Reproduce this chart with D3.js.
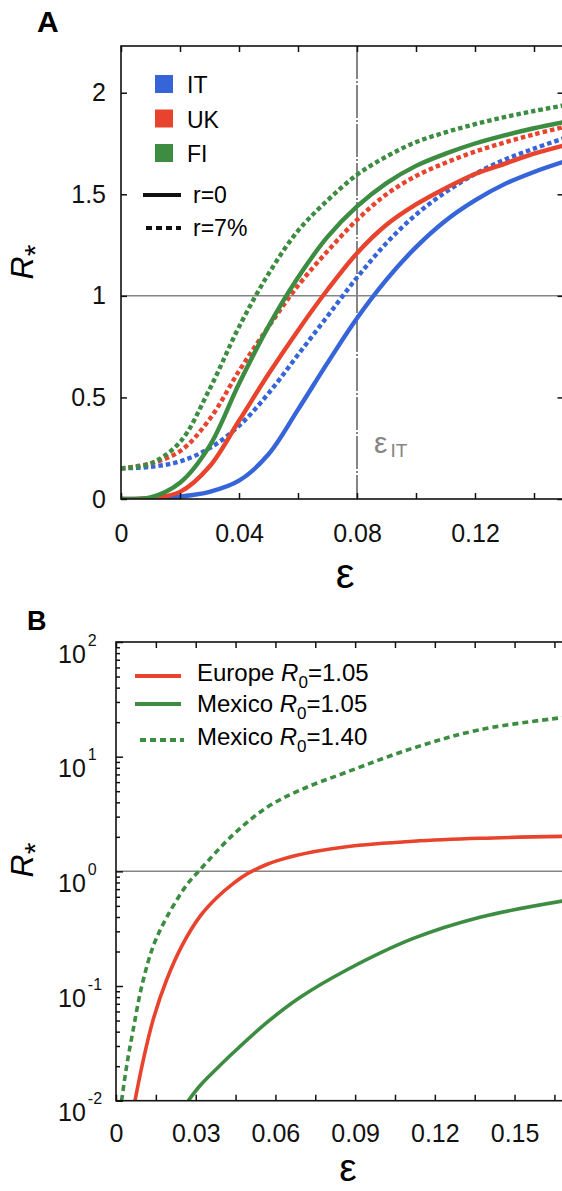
<!DOCTYPE html>
<html>
<head>
<meta charset="utf-8">
<script src="https://cdn.jsdelivr.net/npm/d3@7"></script>
<style>
  body { margin: 0; background: #fff; }
  svg { display: block; font-family: "Liberation Sans", Arial, sans-serif; }
</style>
</head>
<body>
<svg id="chart" width="562" height="1191"></svg>
<script>
// ---- panel A data: R* versus epsilon ----
var epsA = [0, 0.01, 0.02, 0.03, 0.04, 0.05, 0.06, 0.07, 0.08, 0.09, 0.10, 0.11, 0.12, 0.13, 0.14, 0.15];
var itR0 = [0, 0.002, 0.012, 0.035, 0.09, 0.22, 0.44, 0.67, 0.89, 1.08, 1.24, 1.37, 1.47, 1.55, 1.61, 1.66];
var itR7 = [0.151, 0.158, 0.185, 0.25, 0.36, 0.52, 0.71, 0.90, 1.09, 1.26, 1.40, 1.51, 1.60, 1.67, 1.725, 1.775];
var ukR0 = [0, 0.005, 0.035, 0.16, 0.385, 0.615, 0.83, 1.03, 1.21, 1.35, 1.45, 1.53, 1.60, 1.65, 1.70, 1.74];
var ukR7 = [0.151, 0.175, 0.235, 0.392, 0.63, 0.848, 1.05, 1.22, 1.374, 1.50, 1.59, 1.655, 1.71, 1.755, 1.795, 1.83];
var fiR0 = [0, 0.008, 0.08, 0.26, 0.567, 0.85, 1.09, 1.29, 1.44, 1.555, 1.64, 1.70, 1.75, 1.79, 1.825, 1.855];
var fiR7 = [0.151, 0.175, 0.28, 0.54, 0.847, 1.108, 1.32, 1.47, 1.596, 1.686, 1.757, 1.805, 1.845, 1.88, 1.91, 1.937];
var countries = ["IT", "UK", "FI"];
var rLabels = ["r=0", "r=7%"];
var epsIT = 0.08;
var xTicksA = [0, 0.02, 0.04, 0.06, 0.08, 0.10, 0.12, 0.14];
var xLabelsA = [0, 0.04, 0.08, 0.12];
var yTicksA = [0, 0.5, 1, 1.5, 2];

// ---- panel B data (log scale) ----
var eurEps = [0.00715, 0.0103, 0.014, 0.0191, 0.0247, 0.0316, 0.0379, 0.0442, 0.0495, 0.0567, 0.0617, 0.0743, 0.0868, 0.1119, 0.137, 0.168];
var eurR = [0.01, 0.0228, 0.051, 0.114, 0.222, 0.405, 0.589, 0.785, 0.955, 1.148, 1.259, 1.479, 1.641, 1.828, 1.941, 2.018];
var mex105Eps = [0.0272, 0.0316, 0.0379, 0.0442, 0.0567, 0.0692, 0.0868, 0.1119, 0.137, 0.168];
var mex105R = [0.01, 0.0135, 0.019, 0.0263, 0.0479, 0.0794, 0.138, 0.26, 0.398, 0.55];
var mex140Eps = [0.0021, 0.004, 0.0065, 0.0097, 0.014, 0.019, 0.0266, 0.0316, 0.0442, 0.0567, 0.0692, 0.0868, 0.1119, 0.137, 0.168];
var mex140R = [0.01, 0.02, 0.042, 0.1, 0.222, 0.394, 0.76, 1.03, 2.1, 3.6, 5.1, 7.33, 11.9, 17.2, 21.9];
var legendB = [["Europe ", "1.05"], ["Mexico ", "1.05"], ["Mexico ", "1.40"]];
var xTicksB = [0, 0.015, 0.03, 0.045, 0.06, 0.075, 0.09, 0.105, 0.12, 0.135, 0.15, 0.165];
var xLabelsB = [0, 0.03, 0.06, 0.09, 0.12, 0.15];
var yMajorB = [0.01, 0.1, 1, 10, 100];

var blue = "#3565d8", red = "#e8432d", green = "#3c8c42", grey = "#858585";
var colorOf = {IT: blue, UK: red, FI: green};

var svg = d3.select("#chart");
var curve = d3.curveCatmullRom.alpha(0.5);

// ================= PANEL A =================
var xA = d3.scaleLinear().domain([0, 0.15]).range([121, 563.5]);
var yA = d3.scaleLinear().domain([0, 2.23]).range([499, 46]);

svg.append("text").attr("x", 37).attr("y", 32).attr("font-size", 30).attr("font-weight", "bold").text("A");

var defs = svg.append("defs");
defs.append("clipPath").attr("id", "clipA")
  .append("rect").attr("x", 121).attr("y", 46).attr("width", 442.5).attr("height", 453);
defs.append("clipPath").attr("id", "clipB")
  .append("rect").attr("x", 116).attr("y", 642).attr("width", 452).attr("height", 458.7);

// reference lines
svg.append("line").attr("x1", xA(0)).attr("x2", xA(0.15)).attr("y1", yA(1)).attr("y2", yA(1))
  .attr("stroke", grey).attr("stroke-width", 1.5);
svg.append("line").attr("x1", xA(epsIT)).attr("x2", xA(epsIT)).attr("y1", yA(2.23)).attr("y2", yA(0))
  .attr("stroke", grey).attr("stroke-width", 2).attr("stroke-dasharray", "33,2,2,2");

var epsLabel = svg.append("text").attr("x", 374).attr("y", 453).attr("fill", grey).attr("font-size", 30);
epsLabel.append("tspan").text("ε");
epsLabel.append("tspan").attr("font-size", 19).attr("dx", 3).attr("dy", 4).text("IT");

var seriesA = [
  {c: "IT", dash: false, v: itR0}, {c: "IT", dash: true, v: itR7},
  {c: "UK", dash: false, v: ukR0}, {c: "UK", dash: true, v: ukR7},
  {c: "FI", dash: false, v: fiR0}, {c: "FI", dash: true, v: fiR7}
];
var lineA = d3.line().x(function (d, i) { return xA(epsA[i]); }).y(function (d) { return yA(d); })
  .curve(curve);
svg.append("g").attr("clip-path", "url(#clipA)")
  .selectAll("path").data(seriesA).join("path")
  .attr("d", function (s) { return lineA(s.v); })
  .attr("fill", "none")
  .attr("stroke", function (s) { return colorOf[s.c]; })
  .attr("stroke-width", 4.4)
  .attr("stroke-dasharray", function (s) { return s.dash ? "4.5,3" : null; });

// axes A (ticks point inwards)
svg.append("g").attr("transform", "translate(0,499)")
  .call(d3.axisBottom(xA).tickValues(xTicksA).tickSize(-6).tickSizeOuter(0).tickPadding(25)
    .tickFormat(function (d) { return xLabelsA.indexOf(d) >= 0 ? (d === 0 ? "0" : d3.format(".2f")(d)) : ""; }));
svg.append("g").attr("transform", "translate(0,46)")
  .call(d3.axisTop(xA).tickValues(xTicksA).tickSize(-6).tickSizeOuter(0).tickFormat(""));
svg.append("g").attr("transform", "translate(121,0)")
  .call(d3.axisLeft(yA).tickValues(yTicksA).tickSize(-6).tickSizeOuter(0).tickPadding(15)
    .tickFormat(function (d) { return d3.format("")(d); }));
svg.append("g").attr("transform", "translate(563.5,0)")
  .call(d3.axisRight(yA).tickValues(yTicksA).tickSize(-6).tickSizeOuter(0).tickFormat(""));
svg.append("rect").attr("x", 121).attr("y", 46).attr("width", 442.5).attr("height", 453)
  .attr("fill", "none").attr("stroke", "#111").attr("stroke-width", 1.6);

svg.append("text").attr("x", 345).attr("y", 588).attr("text-anchor", "middle").attr("font-size", 42).text("ε");
var ylA = svg.append("text").attr("transform", "translate(33,262) rotate(-90)").attr("text-anchor", "middle");
ylA.append("tspan").attr("font-size", 32).attr("font-style", "italic").text("R");
ylA.append("tspan").attr("font-size", 30).attr("dy", 12).text("*");

// legend A
var legA = svg.append("g").selectAll("g").data(countries).join("g")
  .attr("transform", function (d, i) { return "translate(155," + (75 + i * 34.5) + ")"; });
legA.append("rect").attr("width", 18).attr("height", 18).attr("fill", function (d) { return colorOf[d]; });
legA.append("text").attr("x", 32).attr("y", 18).attr("font-size", 23).text(function (d) { return d; });
var legR = svg.append("g").selectAll("g").data(rLabels).join("g")
  .attr("transform", function (d, i) { return "translate(143," + (195 + i * 33) + ")"; });
legR.append("line").attr("x1", function (d, i) { return i ? 3 : 0; }).attr("x2", 38).attr("stroke", "#111").attr("stroke-width", 4)
  .attr("stroke-dasharray", function (d, i) { return i ? "6,4" : null; });
legR.append("text").attr("x", 50).attr("y", 8).attr("font-size", 23).text(function (d) { return d; });

// ================= PANEL B =================
var xB = d3.scaleLinear().domain([0, 0.17]).range([116, 567.7]);
var yB = d3.scaleLog().domain([0.01, 100]).range([1100.7, 642]);

svg.append("text").attr("x", 27).attr("y", 630).attr("font-size", 27).attr("font-weight", "bold").text("B");

svg.append("line").attr("x1", xB(0)).attr("x2", xB(0.17)).attr("y1", yB(1)).attr("y2", yB(1))
  .attr("stroke", grey).attr("stroke-width", 1.5);

var seriesB = [
  {eps: eurEps, r: eurR, color: red, dash: null},
  {eps: mex105Eps, r: mex105R, color: green, dash: null},
  {eps: mex140Eps, r: mex140R, color: green, dash: "6,4"}
];
svg.append("g").attr("clip-path", "url(#clipB)")
  .selectAll("path").data(seriesB).join("path")
  .attr("d", function (s) {
    return d3.line().x(function (d, i) { return xB(s.eps[i]); }).y(function (d) { return yB(d); })
      .curve(curve)(s.r);
  })
  .attr("fill", "none").attr("stroke", function (s) { return s.color; })
  .attr("stroke-width", 3.6).attr("stroke-dasharray", function (s) { return s.dash; });

var minorB = [];
[0.01, 0.1, 1, 10].forEach(function (p) { for (var k = 2; k <= 9; k++) minorB.push(p * k); });

svg.append("g").attr("transform", "translate(0,1100.7)")
  .call(d3.axisBottom(xB).tickValues(xTicksB).tickSize(-6).tickSizeOuter(0).tickPadding(24)
    .tickFormat(function (d) { return xLabelsB.indexOf(d) >= 0 ? (d === 0 ? "0" : d3.format(".2f")(d)) : ""; }));
svg.append("g").attr("transform", "translate(0,642)")
  .call(d3.axisTop(xB).tickValues(xTicksB).tickSize(-6).tickSizeOuter(0).tickFormat(""));
svg.append("g").attr("transform", "translate(116,0)")
  .call(d3.axisLeft(yB).tickValues(minorB).tickSize(-4).tickSizeOuter(0).tickFormat(""));
var yAxB = svg.append("g").attr("transform", "translate(116,0)")
  .call(d3.axisLeft(yB).tickValues(yMajorB).tickSize(-7).tickSizeOuter(0).tickFormat(""));
yAxB.selectAll(".tick").append("text").attr("x", -58).attr("y", 20).attr("fill", "#000").attr("text-anchor", "start")
  .each(function (d) {
    var t = d3.select(this);
    t.append("tspan").attr("font-size", 25).text("10");
    t.append("tspan").attr("font-size", 16).attr("dx", 2).attr("dy", -17).text(Math.round(Math.log10(d)));
  });
svg.append("rect").attr("x", 116).attr("y", 642).attr("width", 451.7).attr("height", 458.7)
  .attr("fill", "none").attr("stroke", "#111").attr("stroke-width", 1.6);

svg.append("text").attr("x", 348).attr("y", 1181).attr("text-anchor", "middle").attr("font-size", 39).text("ε");
var ylB = svg.append("text").attr("transform", "translate(33,860) rotate(-90)").attr("text-anchor", "middle");
ylB.append("tspan").attr("font-size", 32).attr("font-style", "italic").text("R");
ylB.append("tspan").attr("font-size", 30).attr("dy", 12).text("*");

// legend B
var legB = svg.append("g").selectAll("g").data(legendB).join("g")
  .attr("transform", function (d, i) { return "translate(135," + [676, 704, 740][i] + ")"; });
legB.append("line").attr("x1", function (d, i) { return i === 2 ? 5 : 0; }).attr("x2", function (d, i) { return i === 2 ? 49 : 46; })
  .attr("stroke", function (d, i) { return i === 0 ? red : green; }).attr("stroke-width", 4)
  .attr("stroke-dasharray", function (d, i) { return i === 2 ? "6,4" : null; });
var legBT = legB.append("text").attr("x", 62).attr("y", function (d, i) { return [5, 8, 5][i]; }).attr("font-size", 24);
legBT.append("tspan").text(function (d) { return d[0]; });
legBT.append("tspan").attr("font-style", "italic").text("R");
legBT.append("tspan").attr("font-size", 17).attr("dy", 7).text("0");
legBT.append("tspan").attr("dy", -7).text(function (d) { return "=" + d[1]; });

// common axis styling
svg.selectAll(".tick line").attr("stroke", "#111").attr("stroke-width", 1.5);
svg.selectAll(".domain").remove();
svg.selectAll(".tick text").attr("font-size", 25).attr("fill", "#111");
</script>
</body>
</html>
